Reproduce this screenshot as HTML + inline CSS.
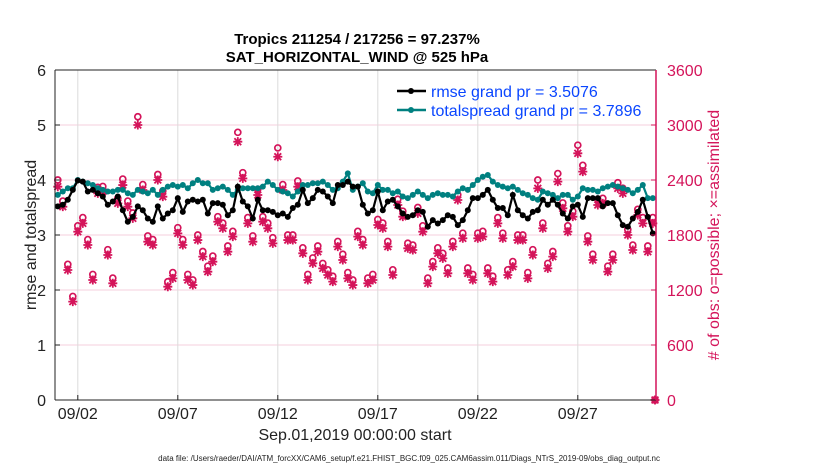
<!DOCTYPE html>
<html><head><meta charset="utf-8"><style>
body{margin:0;background:#fff;font-family:"Liberation Sans",sans-serif}
svg text{font-family:"Liberation Sans",sans-serif}
</style></head><body>
<svg id="chart" width="830" height="470" xmlns="http://www.w3.org/2000/svg">
<text x="357" y="44" text-anchor="middle" font-size="15" font-weight="bold">Tropics 211254 / 217256 = 97.237%</text>
<text x="357" y="62" text-anchor="middle" font-size="15" font-weight="bold">SAT_HORIZONTAL_WIND @ 525 hPa</text>
<g id="grid"></g>
<g id="marks"></g>
<g id="axes"></g>
<text x="355" y="440" text-anchor="middle" font-size="16" fill="#222">Sep.01,2019 00:00:00 start</text>
<text x="660" y="461" text-anchor="end" font-size="8" fill="#222">data file: /Users/raeder/DAI/ATM_forcXX/CAM6_setup/f.e21.FHIST_BGC.f09_025.CAM6assim.011/Diags_NTrS_2019-09/obs_diag_output.nc</text>
<text transform="translate(36,235) rotate(-90)" text-anchor="middle" font-size="16" fill="#222">rmse and totalspread</text>
<text transform="translate(719,235) rotate(-90)" text-anchor="middle" font-size="16" fill="#d4145a"># of obs: o=possible; ×=assimilated</text>
<g>
<line x1="397" y1="91" x2="426" y2="91" stroke="#000" stroke-width="2.5"/>
<circle cx="411" cy="91" r="3" fill="#000"/>
<text x="431" y="97" font-size="16" fill="#0a46ff">rmse grand pr = 3.5076</text>
<line x1="397" y1="110" x2="426" y2="110" stroke="#008080" stroke-width="2.5"/>
<circle cx="411" cy="110" r="3" fill="#008080"/>
<text x="431" y="116" font-size="16" fill="#0a46ff">totalspread grand pr = 3.7896</text>
</g>
</svg>
<script>
const rmse = [3.52,3.55,3.64,3.82,3.99,3.97,3.79,3.82,3.76,3.70,3.55,3.61,3.70,3.45,3.24,3.33,3.52,3.45,3.30,3.24,3.52,3.30,3.39,3.45,3.67,3.42,3.61,3.64,3.61,3.64,3.39,3.58,3.58,3.55,3.36,3.45,3.88,3.61,3.52,3.30,3.64,3.45,3.45,3.42,3.36,3.39,3.33,3.49,3.55,3.82,3.58,3.67,3.82,3.79,3.70,3.58,3.91,3.91,3.97,3.88,3.88,
3.55,3.39,3.45,3.79,3.45,3.61,3.64,3.52,3.39,3.33,3.36,3.45,3.42,3.15,3.27,3.21,3.27,3.36,3.33,3.18,3.27,3.45,3.67,3.67,3.73,3.82,3.64,3.49,3.49,3.36,3.73,3.45,3.36,3.30,3.42,3.45,3.64,3.55,3.64,3.55,3.39,3.30,3.52,3.55,3.33,3.67,3.67,3.67,3.52,3.58,3.58,3.36,3.18,3.15,3.30,3.42,3.64,3.33,3.03];
const spread = [3.73,3.79,3.85,3.85,4.00,3.97,3.94,3.91,3.85,3.82,3.79,3.79,3.82,3.82,3.76,3.73,3.82,3.79,3.76,3.82,3.73,3.82,3.88,3.91,3.88,3.91,3.85,3.94,4.00,3.94,3.94,3.82,3.85,3.88,3.82,3.73,3.82,3.85,3.85,3.85,3.85,3.88,3.97,3.91,3.82,3.79,3.76,3.70,3.79,3.91,3.91,3.94,3.94,3.97,3.91,3.82,3.85,3.97,4.12,3.82,3.88,
3.94,3.79,3.76,3.91,3.82,3.82,3.76,3.79,3.70,3.67,3.73,3.79,3.73,3.67,3.73,3.76,3.73,3.73,3.70,3.79,3.85,3.82,3.91,4.00,4.06,4.09,3.97,3.91,3.88,3.85,3.88,3.82,3.76,3.73,3.67,3.64,3.79,3.76,3.73,3.67,3.73,3.73,3.64,3.70,3.85,3.82,3.82,3.79,3.85,3.88,3.91,3.88,3.85,3.82,3.76,3.82,3.91,3.67,3.67];
const assimilated = [2327,2109,1418,1073,1836,1927,1691,1309,2254,2273,1582,1273,2145,2345,2109,1982,3000,2291,1727,1691,2400,2218,1236,1327,1818,1691,1309,1254,1745,1564,1400,1509,1945,1873,1618,1782,2818,2418,1927,1727,2236,1945,1873,1709,2654,2291,1745,1745,2327,1600,1309,1491,1618,1436,1364,1291,1673,1527,1327,1254,1782,
1691,1273,1309,1909,1873,1673,1364,2127,2000,1655,1636,2036,1836,1273,1455,1600,1545,1382,1673,2182,1764,1382,1309,1764,1782,1382,1291,1927,1764,1364,1455,1745,1745,1327,1582,2309,1873,1436,1564,2382,2091,1836,2000,2691,2491,1727,1527,2127,2145,1400,1527,2309,2254,1800,1636,2018,1927,1618,1927,0];
const possible = [2400,2170,1480,1130,1900,1990,1750,1370,2320,2330,1640,1330,2200,2410,2170,2040,3090,2350,1790,1750,2460,2280,1290,1390,1880,1750,1370,1310,1800,1620,1460,1570,2000,1930,1680,1840,2920,2480,1990,1790,2300,2000,1930,1770,2750,2350,1800,1800,2390,1660,1370,1550,1680,1490,1420,1350,1730,1590,1390,1310,1840,
1750,1330,1370,1970,1930,1730,1420,2190,2060,1710,1690,2100,1900,1330,1510,1660,1600,1440,1730,2240,1820,1440,1370,1820,1840,1440,1350,1990,1820,1420,1510,1800,1800,1390,1640,2400,1930,1490,1620,2470,2150,1900,2060,2780,2560,1790,1590,2190,2200,1460,1590,2370,2310,1860,1690,2080,1990,1680,1990,0];
const leftTicks = [0,1,2,3,4,5,6];
const rightTicks = [0,600,1200,1800,2400,3000,3600];
const dateTicks = ["09/02","09/07","09/12","09/17","09/22","09/27"];
const dateTickDays = [2,7,12,17,22,27];
const startDay = 1, stepDay = 0.25;

const L=55,R=656,T=70,B=400;
const xDay = d => 77.8 + (d-2)*20;
const yL = v => B - v*(B-T)/6;
const yR = v => B - v*(B-T)/3600;
const NS='http://www.w3.org/2000/svg';
function mk(parent,tag,attrs){const e=document.createElementNS(NS,tag);for(const k in attrs)e.setAttribute(k,attrs[k]);parent.appendChild(e);return e;}
const grid=document.getElementById('grid'),marks=document.getElementById('marks'),axes=document.getElementById('axes');

leftTicks.forEach(v=>{const y=yL(v);
 const g=mk(grid,'line',{x1:L,x2:R,y1:y,y2:y,stroke:'#f4cfdc','stroke-width':1});
 
 
 const t=mk(axes,'text',{x:L-9,y:y+6,'text-anchor':'end','font-size':16,fill:'#222'});t.textContent=v;
 
 
 mk(axes,'line',{x1:L,x2:L+5,y1:y,y2:y,stroke:'#222'});
});
rightTicks.forEach(v=>{const y=yR(v);
 const t=mk(axes,'text',{x:R+11,y:y+6,'font-size':16,fill:'#d4145a'});t.textContent=v;
 
 
 mk(axes,'line',{x1:R-5,x2:R,y1:y,y2:y,stroke:'#d4145a'});
});
dateTicks.forEach((lab,i)=>{const x=xDay(dateTickDays[i]);
 const g=mk(grid,'line',{x1:x,x2:x,y1:T,y2:B,stroke:'#dcdcdc','stroke-width':1});
 
 
 mk(axes,'line',{x1:x,x2:x,y1:B,y2:B-5,stroke:'#222'});
 const t=mk(axes,'text',{x:x,y:B+19,'text-anchor':'middle','font-size':16,fill:'#222'});t.textContent=lab;
 
 
});
mk(axes,'line',{x1:L,x2:R,y1:B,y2:B,stroke:'#222'});
mk(axes,'line',{x1:L,x2:R,y1:T,y2:T,stroke:'#222'});
mk(axes,'line',{x1:L,x2:L,y1:T,y2:B,stroke:'#222'});
const ra=mk(axes,'line',{x1:R,x2:R,y1:T,y2:B,stroke:'#d4145a','stroke-width':1.5});



function xi(i){return xDay(startDay+i*stepDay);}
const S=4.5,D=3.4;
assimilated.forEach((v,i)=>{
 let x=xi(i); if(i===assimilated.length-1&&v===0)x=R-1;
 const yp=yR(possible[i]), ya=yR(v);
 const c=mk(marks,'circle',{cx:x,cy:yp,r:3,fill:'none',stroke:'#d4145a','stroke-width':1.7});
 
 
 const d=`M${x-S},${ya}H${x+S}M${x},${ya-S}V${ya+S}M${x-D},${ya-D}L${x+D},${ya+D}M${x-D},${ya+D}L${x+D},${ya-D}`;
 const s=mk(marks,'path',{d:d,stroke:'#d4145a','stroke-width':1.8,fill:'none'});
 
 
 if(v===0){const z=mk(marks,'circle',{cx:x,cy:ya,r:3.5,fill:'#d4145a'});
  
  }
});
function series(arr,color,name){
 const pts=arr.map((v,i)=>xi(i).toFixed(1)+','+yL(v).toFixed(1)).join(' ');
 const p=mk(marks,'polyline',{points:pts,fill:'none',stroke:color,'stroke-width':2.2});
 
 
 arr.forEach((v,i)=>{const c=mk(marks,'circle',{cx:xi(i),cy:yL(v),r:3,fill:color});
  
  });
}
series(spread,'#008080','totalspread');
series(rmse,'#000','rmse');
</script>
</body></html>
